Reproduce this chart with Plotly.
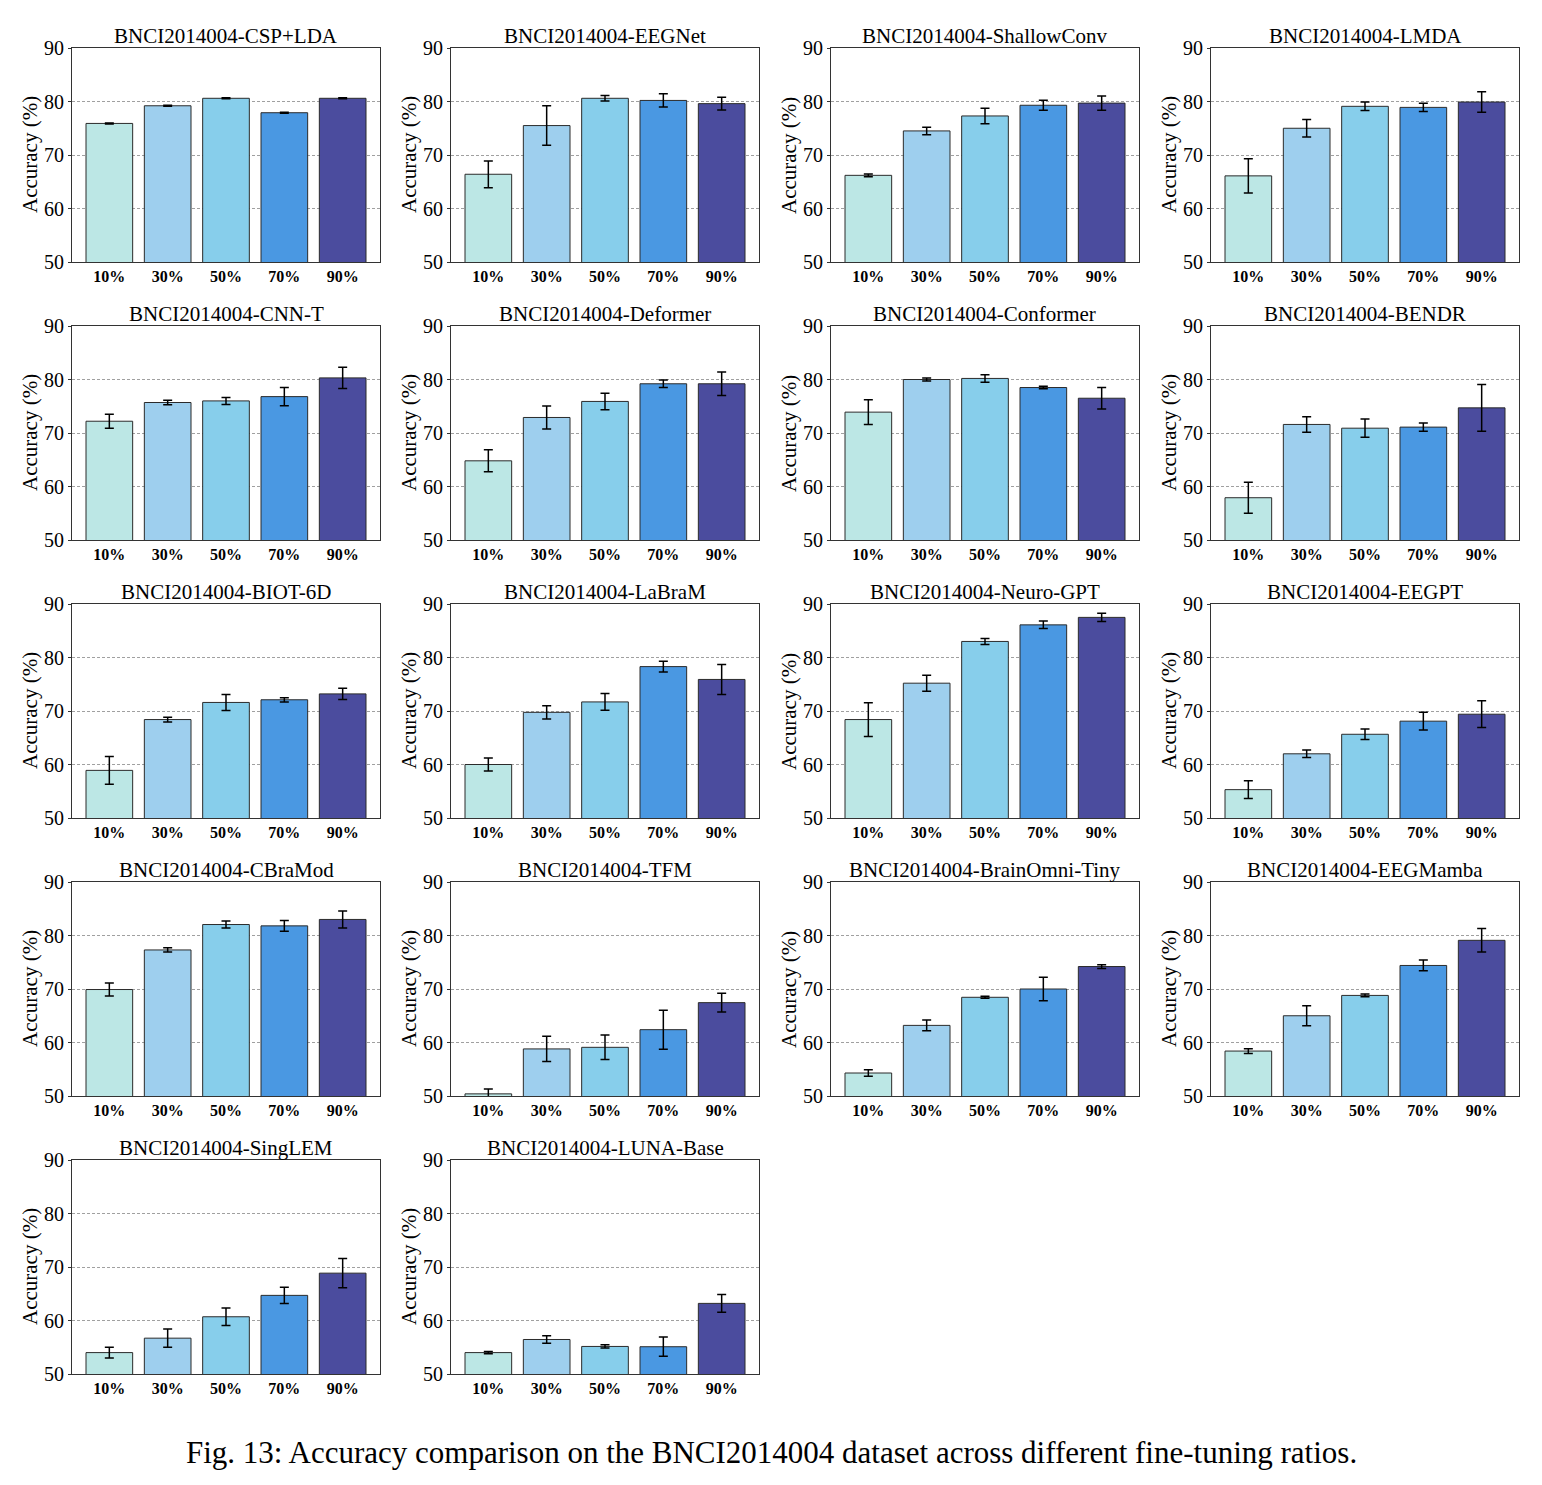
import plotly.graph_objects as go

W, H = 1542, 1485

ratios = ["10%", "30%", "50%", "70%", "90%"]
bar_colors = ["#bce7e5", "#9ecfee", "#87ceeb", "#4a98e2", "#4b4c9e"]

models = ["CSP+LDA", "EEGNet", "ShallowConv", "LMDA",
          "CNN-T", "Deformer", "Conformer", "BENDR",
          "BIOT-6D", "LaBraM", "Neuro-GPT", "EEGPT",
          "CBraMod", "TFM", "BrainOmni-Tiny", "EEGMamba",
          "SingLEM", "LUNA-Base"]

acc_csp_lda = [75.9, 79.2, 80.6, 77.9, 80.6]
err_csp_lda = [0.1, 0.1, 0.1, 0.1, 0.1]
acc_eegnet = [66.4, 75.5, 80.6, 80.2, 79.6]
err_eegnet = [2.5, 3.7, 0.5, 1.25, 1.2]
acc_shallowconv = [66.2, 74.5, 77.3, 79.3, 79.7]
err_shallowconv = [0.25, 0.7, 1.45, 0.95, 1.35]
acc_lmda = [66.1, 75.0, 79.1, 78.9, 79.9]
err_lmda = [3.2, 1.65, 0.8, 0.75, 1.9]
acc_cnn_t = [72.2, 75.7, 76.0, 76.8, 80.3]
err_cnn_t = [1.3, 0.4, 0.65, 1.7, 2.0]
acc_deformer = [64.8, 72.9, 75.9, 79.2, 79.2]
err_deformer = [2.05, 2.15, 1.55, 0.7, 2.2]
acc_conformer = [73.9, 80.0, 80.2, 78.5, 76.5]
err_conformer = [2.3, 0.3, 0.7, 0.25, 2.0]
acc_bendr = [57.9, 71.6, 70.9, 71.1, 74.7]
err_bendr = [2.9, 1.45, 1.7, 0.75, 4.35]
acc_biot_6d = [58.9, 68.4, 71.6, 72.1, 73.2]
err_biot_6d = [2.6, 0.45, 1.5, 0.4, 1.05]
acc_labram = [60.0, 69.75, 71.7, 78.3, 75.9]
err_labram = [1.2, 1.25, 1.55, 1.0, 2.8]
acc_neuro_gpt = [68.4, 75.2, 83.0, 86.1, 87.5]
err_neuro_gpt = [3.15, 1.5, 0.55, 0.7, 0.75]
acc_eegpt = [55.3, 62.0, 65.65, 68.1, 69.4]
err_eegpt = [1.65, 0.7, 1.0, 1.65, 2.5]
acc_cbramod = [69.9, 77.3, 82.05, 81.8, 83.0]
err_cbramod = [1.2, 0.4, 0.65, 1.0, 1.6]
acc_tfm = [50.4, 58.8, 59.1, 62.4, 67.45]
err_tfm = [0.9, 2.35, 2.3, 3.65, 1.75]
acc_brainomni_tiny = [54.3, 63.2, 68.45, 70.0, 74.2]
err_brainomni_tiny = [0.6, 1.0, 0.2, 2.2, 0.35]
acc_eegmamba = [58.4, 65.0, 68.8, 74.4, 79.1]
err_eegmamba = [0.45, 1.85, 0.25, 1.0, 2.2]
acc_singlem = [54.0, 56.7, 60.7, 64.7, 68.85]
err_singlem = [1.0, 1.7, 1.65, 1.5, 2.75]
acc_luna_base = [54.0, 56.45, 55.15, 55.1, 63.2]
err_luna_base = [0.2, 0.7, 0.3, 1.8, 1.65]

panel_data = [
    (acc_csp_lda, err_csp_lda), (acc_eegnet, err_eegnet),
    (acc_shallowconv, err_shallowconv), (acc_lmda, err_lmda),
    (acc_cnn_t, err_cnn_t), (acc_deformer, err_deformer),
    (acc_conformer, err_conformer), (acc_bendr, err_bendr),
    (acc_biot_6d, err_biot_6d), (acc_labram, err_labram),
    (acc_neuro_gpt, err_neuro_gpt), (acc_eegpt, err_eegpt),
    (acc_cbramod, err_cbramod), (acc_tfm, err_tfm),
    (acc_brainomni_tiny, err_brainomni_tiny), (acc_eegmamba, err_eegmamba),
    (acc_singlem, err_singlem), (acc_luna_base, err_luna_base),
]

y_ticks = [50, 60, 70, 80, 90]
FONT = "Liberation Serif, Times New Roman, serif"

col_x0 = [72, 451, 831, 1211]
row_y0 = [48, 326, 604, 882, 1160]
AW, AH = 308, 214

fig = go.Figure()
annotations = []
layout_axes = {}

for i, (name, (acc, err)) in enumerate(zip(models, panel_data)):
    r, c = divmod(i, 4)
    k = "" if i == 0 else str(i + 1)
    x0 = col_x0[c]
    y0 = row_y0[r]
    xd = [x0 / W, (x0 + AW) / W]
    yd = [(H - (y0 + AH)) / H, (H - y0) / H]
    fig.add_trace(go.Bar(
        x=list(range(len(ratios))), y=acc,
        width=0.8,
        marker=dict(color=bar_colors, line=dict(color="#2b2b2b", width=1)),
        error_y=dict(type="data", array=err, visible=True,
                     color="black", thickness=1.5, width=4.5),
        xaxis="x" + k, yaxis="y" + k, showlegend=False,
    ))
    layout_axes["xaxis" + k] = dict(
        domain=xd, anchor="y" + k, range=[-0.64, 4.64], automargin=False,
        tickvals=list(range(len(ratios))),
        ticktext=["<b>%s</b>" % t for t in ratios],
        tickfont=dict(family=FONT, size=16, color="black"),
        showline=True, mirror=True, linecolor="#333333", linewidth=1,
        showgrid=False, zeroline=False, ticks="",
    )
    layout_axes["yaxis" + k] = dict(
        domain=yd, anchor="x" + k, range=[50, 90], automargin=False,
        tickvals=y_ticks,
        tickfont=dict(family=FONT, size=20, color="black"),
        showline=True, mirror=True, linecolor="#333333", linewidth=1,
        showgrid=True, gridcolor="#a0a0a0", gridwidth=0.8, griddash="3px,2px",
        zeroline=False, ticks="outside", ticklen=3, tickcolor="#333333",
    )
    annotations.append(dict(
        text="BNCI2014004-" + name, xref="paper", yref="paper",
        x=(x0 + AW / 2) / W, y=(H - (y0 - 12)) / H,
        xanchor="center", yanchor="middle", showarrow=False,
        font=dict(family=FONT, size=21, color="black"),
    ))
    annotations.append(dict(
        text="Accuracy (%)", xref="paper", yref="paper",
        x=(x0 - 42) / W, y=(H - (y0 + AH / 2)) / H,
        xanchor="center", yanchor="middle", showarrow=False, textangle=-90,
        font=dict(family=FONT, size=21, color="black"),
    ))

annotations.append(dict(
    text="Fig. 13: Accuracy comparison on the BNCI2014004 dataset across different fine-tuning ratios.",
    xref="paper", yref="paper", x=771 / W, y=(H - 1452) / H,
    xanchor="center", yanchor="middle", showarrow=False,
    font=dict(family=FONT, size=31, color="black"),
))

fig.update_layout(
    width=W, height=H, margin=dict(l=0, r=0, t=0, b=0, autoexpand=False),
    template="none",
    paper_bgcolor="white", plot_bgcolor="white",
    annotations=annotations, bargap=0.2,
    **layout_axes,
)

fig.write_html("out.html")
